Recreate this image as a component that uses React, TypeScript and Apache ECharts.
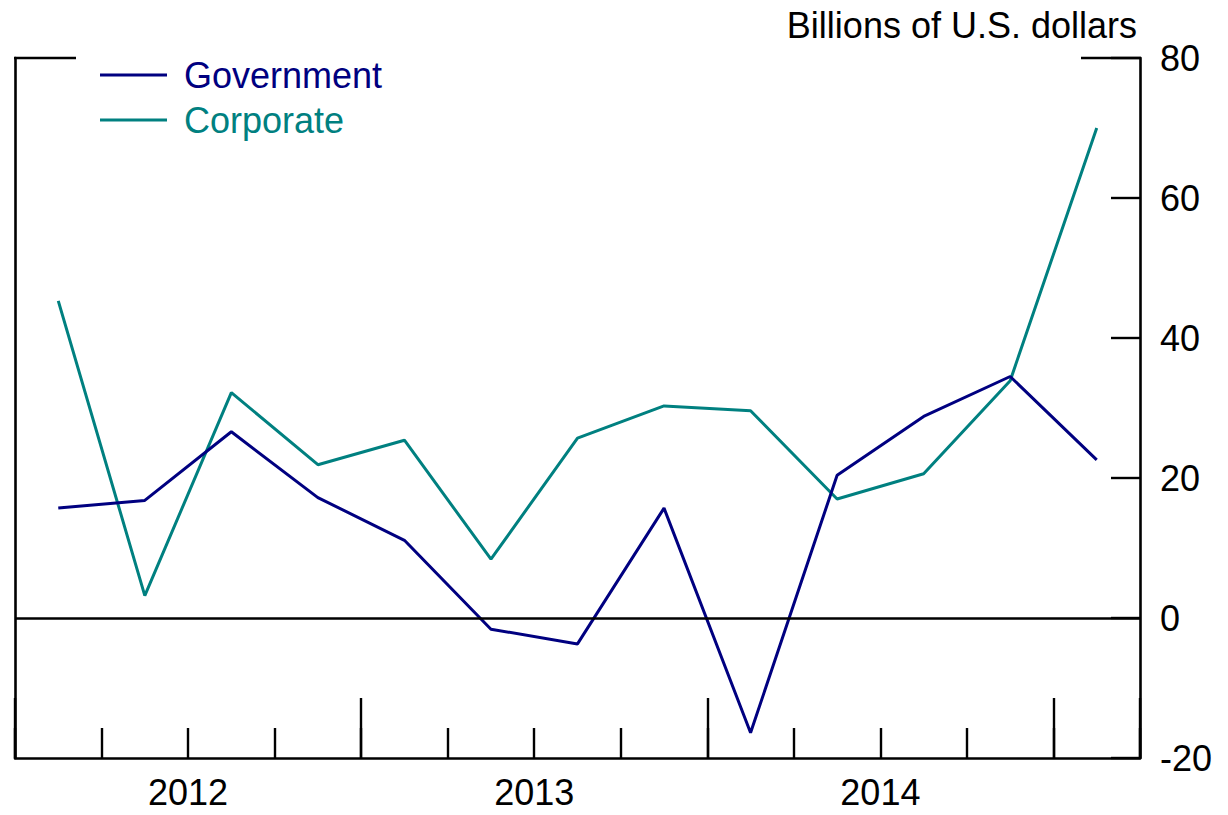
import React, { useEffect, useRef } from "react";
import * as echarts from "echarts";

const quarters = [
  "2012 Q1", "2012 Q2", "2012 Q3", "2012 Q4",
  "2013 Q1", "2013 Q2", "2013 Q3", "2013 Q4",
  "2014 Q1", "2014 Q2", "2014 Q3", "2014 Q4",
  "2015 Q1",
];
const government = [15.7, 16.8, 26.6, 17.2, 11.1, -1.6, -3.7, 15.7, -16.4, 20.4, 28.8, 34.5, 22.6];
const corporate = [45.3, 3.2, 32.2, 21.9, 25.4, 8.4, 25.7, 30.3, 29.6, 17.0, 20.6, 33.9, 70.0];
const yearLabels = ["2012", "2013", "2014"];
const yMin = -20;
const yMax = 80;
const yStep = 20;

const FONT = "'Liberation Sans', Arial, Helvetica, sans-serif";
const FS = 36;
const GOV_COLOR = "#000080";
const CORP_COLOR = "#008080";
const AXIS_W = 2.6;
const TICK_W = 2.4;
const SERIES_W = 3;

export default function App() {
  const ref = useRef<HTMLDivElement>(null);

  useEffect(() => {
    if (!ref.current) return;
    const chart = echarts.init(ref.current, null, { renderer: "svg" });
    const yearCenters = yearLabels.map((_, k) => 4 * k + 2);
    const option: any = {
      animation: false,
      backgroundColor: "#ffffff",
      textStyle: { fontFamily: FONT },
      title: {
        text: "Billions of U.S. dollars",
        right: 1228 - 1137,
        top: 7,
        padding: 0,
        textStyle: { fontFamily: FONT, fontSize: FS, fontWeight: "normal", color: "#000" },
      },
      legend: {
        left: 100,
        top: 55,
        padding: 0,
        orient: "vertical",
        icon: "rect",
        itemWidth: 67,
        itemHeight: 3,
        itemGap: 5,
        data: [
          { name: "Government", textStyle: { color: GOV_COLOR } },
          { name: "Corporate", textStyle: { color: CORP_COLOR } },
        ],
        textStyle: { fontFamily: FONT, fontSize: FS, lineHeight: 40, padding: [0, 0, 0, 12] },
      },
      grid: { left: 15, right: 1228 - 1140, top: 58, bottom: 815 - 758, containLabel: false },
      xAxis: [
        {
          type: "category",
          data: quarters,
          boundaryGap: true,
          position: "bottom",
          axisLine: { show: true, onZero: false, lineStyle: { color: "#000", width: AXIS_W } },
          axisTick: { show: true, inside: true, length: 30, interval: 0, lineStyle: { color: "#000", width: TICK_W } },
          axisLabel: { show: false },
          splitLine: { show: false },
        },
        {
          type: "category",
          data: quarters,
          boundaryGap: true,
          position: "bottom",
          axisLine: { show: false, onZero: false },
          axisTick: {
            show: true,
            inside: true,
            length: 60,
            interval: (i: number) => i % 4 === 0,
            lineStyle: { color: "#000", width: TICK_W },
          },
          axisLabel: { show: false },
          splitLine: { show: false },
        },
        {
          type: "value",
          min: 0,
          max: quarters.length,
          position: "bottom",
          axisLine: { show: false, onZero: false },
          axisTick: { show: false },
          splitLine: { show: false },
          axisLabel: {
            show: true,
            customValues: yearCenters,
            formatter: (v: number) => yearLabels[Math.round((v - 2) / 4)] ?? "",
            fontFamily: FONT,
            fontSize: FS,
            color: "#000",
            margin: 16,
          },
        },
      ],
      yAxis: [
        {
          type: "value",
          position: "right",
          min: yMin,
          max: yMax,
          interval: yStep,
          axisLine: { show: true, onZero: false, lineStyle: { color: "#000", width: AXIS_W } },
          axisTick: { show: true, inside: true, length: 29, lineStyle: { color: "#000", width: TICK_W } },
          axisLabel: { fontFamily: FONT, fontSize: FS, color: "#000", margin: 20 },
          splitLine: { show: false },
        },
        {
          type: "value",
          position: "left",
          min: yMin,
          max: yMax,
          interval: yStep,
          axisLine: { show: true, onZero: false, lineStyle: { color: "#000", width: AXIS_W } },
          axisTick: { show: false },
          axisLabel: { show: false },
          splitLine: { show: false },
        },
      ],
      graphic: [
        { type: "line", shape: { x1: 14, y1: 58, x2: 76, y2: 58 }, style: { stroke: "#000", lineWidth: AXIS_W } },
        { type: "line", shape: { x1: 1081, y1: 58, x2: 1141, y2: 58 }, style: { stroke: "#000", lineWidth: AXIS_W } },
      ],
      series: [
        {
          name: "Government",
          type: "line",
          xAxisIndex: 0,
          yAxisIndex: 0,
          data: government,
          symbol: "none",
          lineStyle: { color: GOV_COLOR, width: SERIES_W },
          itemStyle: { color: GOV_COLOR },
          markLine: {
            silent: true,
            symbol: ["none", "none"],
            label: { show: false },
            lineStyle: { color: "#000", width: AXIS_W, type: "solid" },
            data: [{ yAxis: 0 }],
          },
          z: 3,
        },
        {
          name: "Corporate",
          type: "line",
          xAxisIndex: 0,
          yAxisIndex: 0,
          data: corporate,
          symbol: "none",
          lineStyle: { color: CORP_COLOR, width: SERIES_W },
          itemStyle: { color: CORP_COLOR },
          z: 2,
        },
      ],
    };
    chart.setOption(option);
    return () => chart.dispose();
  }, []);

  return (
    <div
      ref={ref}
      style={{ position: "fixed", left: 0, top: 0, width: 1228, height: 815, background: "#fff" }}
    />
  );
}
